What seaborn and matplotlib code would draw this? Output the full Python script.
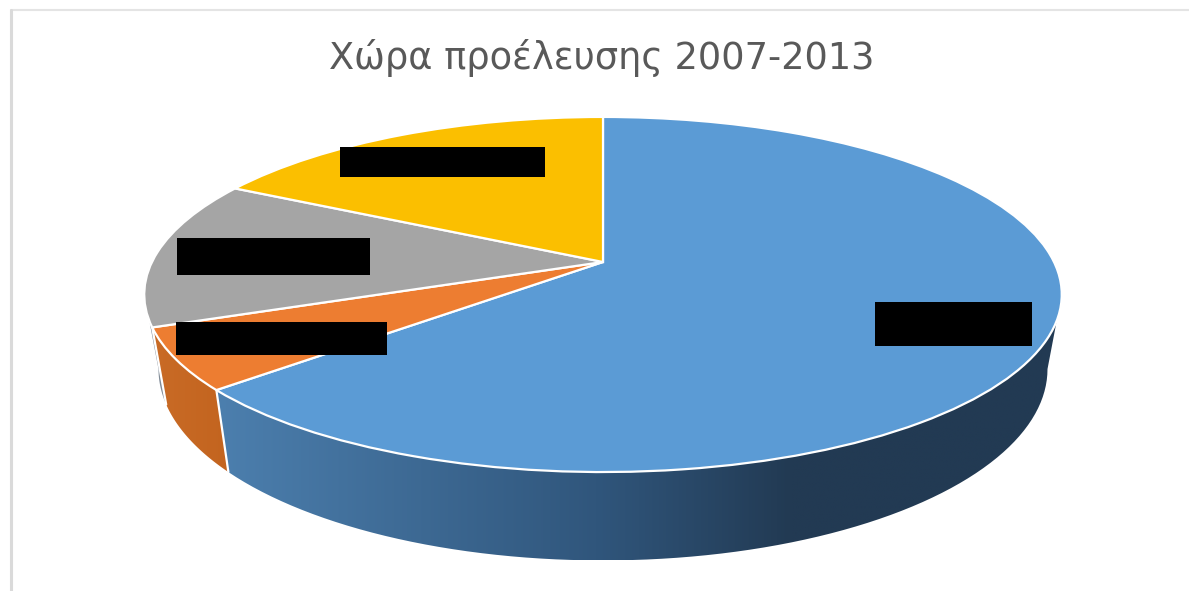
import numpy as np
import matplotlib
matplotlib.use("Agg")
import matplotlib.pyplot as plt
import seaborn as sns
from matplotlib.colors import LinearSegmentedColormap
from matplotlib.patches import Polygon, Rectangle
from matplotlib.transforms import Transform

title = "Χώρα προέλευσης 2007-2013"
categories = ["A", "B", "C", "D"]
shares = [63.6, 5.6, 13.5, 17.3]
top_colors = ["#5B9BD5", "#ED7D31", "#A5A5A5", "#FBBF00"]
wall_colors = [
    ["#4C7FAE", "#30567C", "#223A53", "#223A53"],
    ["#C96B26", "#C3641F"],
    ["#7F8A96", "#7F8A96"],
    ["#B88A00", "#B88A00"],
]
wall_stops = [
    [0.0, 0.45, 0.68, 1.0],
    [0.0, 1.0],
    [0.0, 1.0],
    [0.0, 1.0],
]


class Perspective(Transform):
    """Tilted-disc projection of the unit pie into figure pixels."""
    input_dims = output_dims = 2
    is_affine = False

    def __init__(self, cx, cy, rx, ry, k):
        super().__init__()
        self.cx, self.cy, self.rx, self.ry, self.k = cx, cy, rx, ry, k

    def transform_non_affine(self, xy):
        xy = np.asarray(xy, float)
        d = 1 + self.k * xy[:, 1]
        return np.column_stack([self.cx + self.rx * xy[:, 0] / d,
                                self.cy - self.ry * xy[:, 1] / d])


sns.set_theme(style="white")
plt.rcParams["font.family"] = ["DejaVu Sans"]

fig = plt.figure(figsize=(11.89, 5.91), dpi=100, facecolor="white")
ax = fig.add_axes([0, 0, 1, 1])

K = 0.183
top = Perspective(603, 262, 451, 171.6, K)
bottom = Perspective(603, 334, 437, 185, K)

palette = sns.color_palette(top_colors)
wedges, _ = ax.pie(shares, colors=palette, startangle=90, counterclock=False,
                   wedgeprops=dict(edgecolor="white", linewidth=1.6, zorder=3))
for w in wedges:
    w.set_transform(top + ax.transData)

ax.set_xlim(0, 1189)
ax.set_ylim(591, 0)
ax.set_axis_off()

# Side wall of each slice, visible only on the near half of the disc
vis_hi = -np.degrees(np.arcsin(K))
vis_lo = -180 - vis_hi
edges = 90 - np.cumsum([0] + shares) / np.sum(shares) * 360


def rim(points_fn, th):
    r = np.radians(th)
    return points_fn.transform_non_affine(np.column_stack([np.cos(r), np.sin(r)]))


for i in range(len(shares)):
    hi, lo = min(edges[i], vis_hi), max(edges[i + 1], vis_lo)
    if hi <= lo:
        continue
    th = np.linspace(hi, lo, 80)
    upper, lower = rim(top, th), rim(bottom, th)
    poly = np.vstack([upper, lower[::-1]])
    x0, x1 = poly[:, 0].min(), poly[:, 0].max()
    y0, y1 = poly[:, 1].min(), poly[:, 1].max()
    cmap = LinearSegmentedColormap.from_list(
        f"wall{i}", list(zip(wall_stops[i], wall_colors[i])))
    # Gradient runs left to right over the screen x
    grad = np.linspace(0, 1, 512)[None, :]
    im = ax.imshow(grad, extent=(x0, x1, y1, y0), cmap=cmap, vmin=0, vmax=1,
                   aspect="auto", interpolation="bilinear", zorder=1)
    clip = Polygon(poly, transform=ax.transData, facecolor="none", edgecolor="none")
    ax.add_patch(clip)
    im.set_clip_path(clip)
    if edges[i + 1] >= vis_lo:
        ax.plot([upper[-1, 0], lower[-1, 0]], [upper[-1, 1], lower[-1, 1]],
                color="white", lw=1.6, zorder=2)

ax.set_xlim(0, 1189)
ax.set_ylim(591, 0)

# Redaction boxes that cover the slice labels
for (x, y, w, h) in [(340, 147, 205, 30), (177, 238, 193, 37),
                     (176, 322, 211, 33), (875, 302, 157, 44)]:
    ax.add_patch(Rectangle((x, y), w, h, facecolor="black", edgecolor="none", zorder=4))

# Chart frame, visible on the top and left only
ax.plot([11, 1189], [10, 10], color="#E4E4E4", lw=1.5, zorder=0)
ax.plot([11, 11], [10, 591], color="#DADADA", lw=2.2, zorder=0)

ax.text(602, 58, title, ha="center", va="center", fontsize=26.5, color="#595959")

fig.savefig("out.png", dpi=100, facecolor="white")
